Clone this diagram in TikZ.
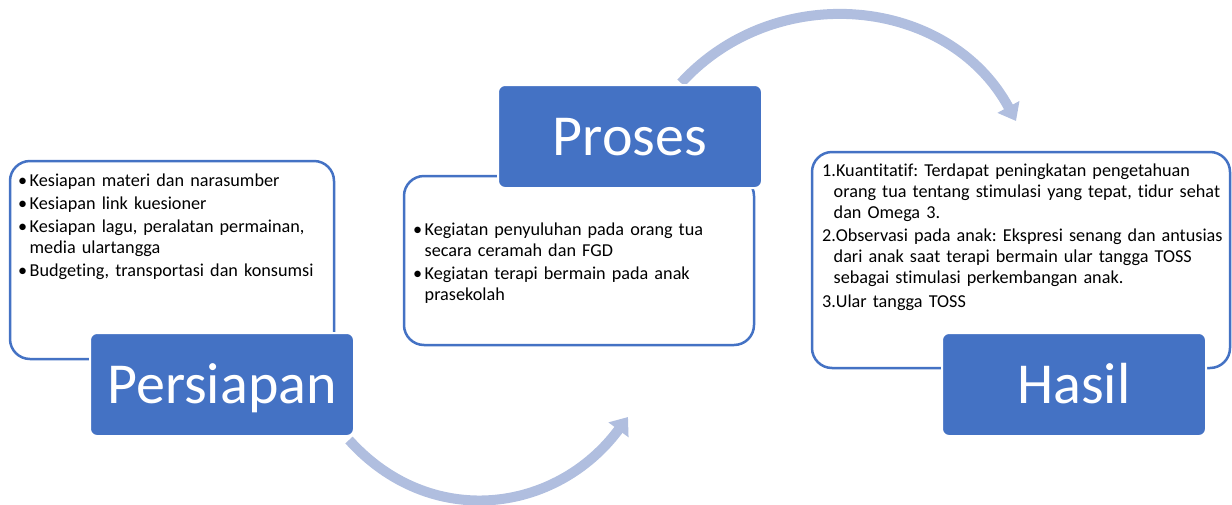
\documentclass[tikz,border=0pt]{standalone}
\usepackage{fontspec}
\setmainfont{Carlito}[Ligatures=NoCommon]
\usepackage{tikz}
\usetikzlibrary{arrows.meta}

\definecolor{smartblue}{RGB}{68,114,196}
\definecolor{arrowblue}{RGB}{176,190,223}

% 项目符号与悬挂缩进
\newcommand{\bul}{\makebox[11.5pt][l]{•}}
\newcommand{\ind}{\hspace*{11.5pt}}

\begin{document}
\frenchspacing
\begin{tikzpicture}[
		x=1pt, y=-1pt,
		% 统一样式
		flowarrow/.style={line width=10pt, draw=arrowblue, -{Triangle[width=24pt,length=16pt]}},
		listbox/.style={draw=smartblue, line width=2.5pt, fill=white, rounded corners=20pt, inner sep=0pt},
		headbox/.style={draw=white, line width=2pt, fill=smartblue, rounded corners=7pt,
			minimum width=264pt, minimum height=103pt, inner sep=0pt,
			text=white, font=\fontsize{58}{60}\selectfont, text height=37pt, text depth=0pt},
		listtext/.style={anchor=base west, inner sep=0pt, align=left,
			font=\fontsize{18.2}{21}\selectfont}
		]
		\useasboundingbox (0,0) rectangle (1232,504);
		
		% ----- 1. 弧形箭头 -----
		\coordinate (arrA1) at (349,440);
		\coordinate (arrA2) at (628,417);
		\coordinate (arrB1) at (681,83);
		\coordinate (arrB2) at (1016,121);
		\draw[flowarrow] (arrA1) .. controls (430,530) and (556,514) .. (arrA2);
		\draw[flowarrow] (arrB1) .. controls (776,-21) and (949,-3.5) .. (arrB2);
		
		% ----- 2. 白色列表框 -----
		\node[listbox, minimum width=324pt, minimum height=198pt] (prepBox) at (172,260) {};
		\node[listbox, minimum width=350pt, minimum height=169pt] (prosBox) at (579,260.5) {};
		\node[listbox, minimum width=418pt, minimum height=216pt] (hasilBox) at (1021,260) {};
		
		% ----- 3. 列表文字 -----
		\node[listtext, text width=310pt] (prepList) at (18,186) {%
			\bul Kesiapan materi dan narasumber\\[2.3pt]
			\bul Kesiapan link kuesioner\\[2.3pt]
			\bul Kesiapan lagu, peralatan permainan,\\
			\ind media ulartangga\\[2.3pt]
			\bul Budgeting, transportasi dan konsumsi};
		\node[listtext, text width=330pt] (prosList) at (413,235) {%
			\bul Kegiatan penyuluhan pada orang tua\\
			\ind secara ceramah dan FGD\\[2pt]
			\bul Kegiatan terapi bermain pada anak\\
			\ind prasekolah};
		\node[listtext, text width=430pt] (hasilList) at (822,176) {%
			1.Kuantitatif: Terdapat peningkatan pengetahuan\\
			\ind orang tua tentang stimulasi yang tepat, tidur sehat\\
			\ind dan Omega 3.\\[2.5pt]
			2.Observasi pada anak: Ekspresi senang dan antusias\\
			\ind dari anak saat terapi bermain ular tangga TOSS\\
			\ind sebagai stimulasi perkembangan anak.\\[2.5pt]
			3.Ular tangga TOSS};
		
		% ----- 4. 标题框 -----
		\node[headbox] (prepHead) at (222,384.5) {Persiapan};
		\node[headbox] (prosHead) at (630,136.5) {Proses};
		\node[headbox] (hasilHead) at (1074,384.5) {Hasil};
		
	\end{tikzpicture}
\end{document}
